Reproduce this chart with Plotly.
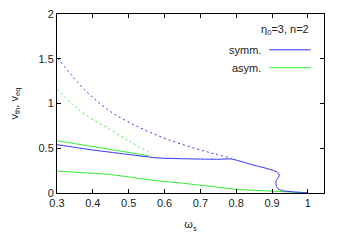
import plotly.graph_objects as go

# symmetric branch, stable (solid)
symm_solid_x = [0.30, 0.35, 0.40, 0.45, 0.50, 0.573, 0.60, 0.65, 0.70, 0.75, 0.787, 0.82, 0.85, 0.88, 0.905, 0.916, 0.920, 0.918, 0.913, 0.911, 0.912, 0.917, 0.93, 0.96, 0.99, 1.0]
symm_solid_y = [0.54, 0.51, 0.48, 0.455, 0.43, 0.395, 0.388, 0.383, 0.379, 0.377, 0.380, 0.345, 0.31, 0.28, 0.25, 0.228, 0.20, 0.175, 0.15, 0.126, 0.08, 0.045, 0.025, 0.012, 0.005, 0.003]
# symmetric branch, unstable (dotted)
symm_dot_x = [0.302, 0.378, 0.45, 0.531, 0.606, 0.685, 0.741, 0.787]
symm_dot_y = [1.505, 1.151, 0.908, 0.73, 0.603, 0.499, 0.436, 0.388]
# asymmetric branch, upper (solid)
asym_up_x = [0.30, 0.35, 0.40, 0.45, 0.50, 0.555]
asym_up_y = [0.584, 0.55, 0.515, 0.485, 0.452, 0.417]
# asymmetric branch, unstable (dotted)
asym_dot_x = [0.30, 0.341, 0.378, 0.45, 0.504, 0.555]
asym_dot_y = [1.159, 1.0, 0.879, 0.704, 0.573, 0.46]
# asymmetric branch, lower (solid)
asym_low_x = [0.30, 0.443, 0.50, 0.56, 0.65, 0.75, 0.80, 0.85, 0.90, 0.95, 1.0]
asym_low_y = [0.246, 0.209, 0.18, 0.145, 0.11, 0.065, 0.041, 0.03, 0.02, 0.01, 0.002]

x_ticks = [0.3, 0.4, 0.5, 0.6, 0.7, 0.8, 0.9, 1.0]
x_tick_text = ["0.3", "0.4", "0.5", "0.6", "0.7", "0.8", "0.9", "1"]
y_ticks = [0, 0.5, 1, 1.5, 2]
y_tick_text = ["0", "0.5", "1", "1.5", "2"]

BLUE = "#3030ff"
GREEN = "#33ee33"

fig = go.Figure()
fig.add_trace(go.Scatter(x=symm_dot_x, y=symm_dot_y, mode="lines", line=dict(color=BLUE, width=1, dash="2px,3px", shape="spline"), showlegend=False))
fig.add_trace(go.Scatter(x=asym_dot_x, y=asym_dot_y, mode="lines", line=dict(color=GREEN, width=1, dash="2px,3px", shape="spline"), showlegend=False))
fig.add_trace(go.Scatter(x=asym_up_x, y=asym_up_y, mode="lines", line=dict(color=GREEN, width=1), showlegend=False))
fig.add_trace(go.Scatter(x=asym_low_x, y=asym_low_y, mode="lines", line=dict(color=GREEN, width=1), showlegend=False))
fig.add_trace(go.Scatter(x=symm_solid_x, y=symm_solid_y, mode="lines", line=dict(color=BLUE, width=1, shape="spline", smoothing=0.6), showlegend=False))

font = dict(family="Liberation Sans, Arial, sans-serif", size=11, color="#222")

axis_common = dict(showgrid=False, zeroline=False, showline=True, linecolor="black", linewidth=1,
                   mirror="ticks", ticks="inside", ticklen=4, tickcolor="black", tickfont=font,
                   automargin=False, ticklabeloverflow="allow")

fig.update_layout(
    width=346, height=242,
    margin=dict(l=49, r=30, t=6, b=57),
    paper_bgcolor="white", plot_bgcolor="white",
    font=font,
    xaxis=dict(range=[0.3, 1.045], tickvals=x_ticks, ticktext=x_tick_text,
               title=dict(text="ω<sub>s</sub>", font=font, standoff=12), **axis_common),
    yaxis=dict(range=[0, 2], tickvals=y_ticks, ticktext=y_tick_text,
               title=dict(text="v<sub>th</sub>, v<sub>eq</sub>", font=font, standoff=20), **axis_common),
    showlegend=False,
)

# legend drawn manually (text on the left, line sample on the right)
fig.add_annotation(xref="paper", yref="paper", x=0.95, y=0.91, text="η<sub>0</sub>=3, n=2",
                   showarrow=False, xanchor="right", yanchor="middle", font=font)
fig.add_annotation(xref="paper", yref="paper", x=0.77, y=0.80, text="symm.",
                   showarrow=False, xanchor="right", yanchor="middle", font=font)
fig.add_annotation(xref="paper", yref="paper", x=0.77, y=0.70, text="asym.",
                   showarrow=False, xanchor="right", yanchor="middle", font=font)
fig.add_shape(type="line", xref="paper", yref="paper", x0=0.795, x1=0.95, y0=0.80, y1=0.80, line=dict(color=BLUE, width=1))
fig.add_shape(type="line", xref="paper", yref="paper", x0=0.795, x1=0.95, y0=0.70, y1=0.70, line=dict(color=GREEN, width=1))

fig.write_html("out.html")
